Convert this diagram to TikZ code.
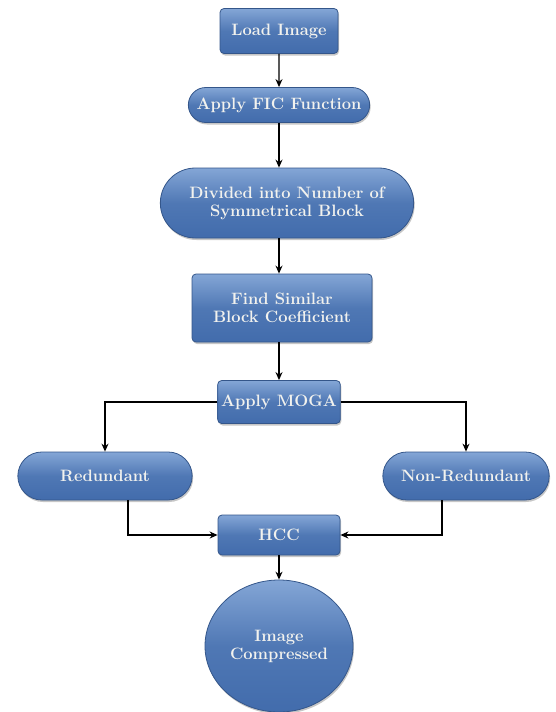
\documentclass[tikz,border=0pt]{standalone}
\usepackage{xcolor}
\usetikzlibrary{positioning}
\usetikzlibrary{arrows.meta,shapes,shadows}

\definecolor{boxtop}{RGB}{132,166,214}
\definecolor{boxbot}{RGB}{66,108,172}
\definecolor{boxline}{RGB}{52,86,138}
\definecolor{boxtext}{RGB}{242,242,238}

\tikzset{
  blue fill/.style={top color=boxtop, bottom color=boxbot, middle color=boxbot!80!boxtop,
    draw=boxline, line width=0.8pt, text=boxtext, align=center,
    font=\fontsize{16.5}{18}\selectfont\bfseries,
    drop shadow={shadow xshift=1pt, shadow yshift=-2pt, opacity=.45}},
  blockbox/.style={blue fill, rectangle, rounded corners=4pt},
  pill/.style={blue fill, rounded rectangle},
  endball/.style={blue fill, ellipse},
  flow/.style={-{Stealth[length=8pt,width=7pt]}, line width=1.2pt, black}
}

\begin{document}
\begin{tikzpicture}[x=1pt,y=1pt,node distance=80pt,on grid]
   \useasboundingbox (0,0) rectangle (556,-712);
   \node[blockbox, minimum width=118pt, minimum height=45pt] (load) at (279,-31) {Load Image};
   \node[pill, minimum width=188pt, minimum height=35pt] (fic) [below=74pt of load] {Apply FIC Function};
   \node[pill, minimum width=260pt, minimum height=70pt] (divide) at (287,-203) {Divided into Number of\\Symmetrical Block};
   \node[blockbox, minimum width=180pt, minimum height=68pt] (similar) at (282,-308) {Find Similar\\Block Coefficient};
   \node[blockbox, minimum width=122pt, minimum height=43pt] (moga) at (279,-402) {Apply MOGA};
   \node[pill, minimum width=181pt, minimum height=48pt] (red) [below left=74pt and 174pt of moga] {Redundant};
   \node[pill, minimum width=173pt, minimum height=48pt] (nonred) [below right=74pt and 187pt of moga] {Non-Redundant};
   \node[blockbox, minimum width=122pt, minimum height=40pt] (hcc) [below=133pt of moga] {HCC};
   \node[endball, minimum width=148pt, minimum height=132pt] (done) [below=111pt of hcc] {Image\\Compressed};
   \draw[flow] (load) -- (fic);
   \draw[flow] (fic.south) -- (fic.south |- divide.north);
   \draw[flow] (fic.south |- divide.south) -- (fic.south |- similar.north);
   \draw[flow] (moga.north |- similar.south) -- (moga);
   \draw[flow] (moga.west) -| (red.north);
   \draw[flow] (moga.east) -| (nonred.north);
   \draw[flow] ([xshift=23pt]red.south) |- (hcc.west);
   \draw[flow] ([xshift=-24pt]nonred.south) |- (hcc.east);
   \draw[flow] (hcc) -- (done);
\end{tikzpicture}
\end{document}
